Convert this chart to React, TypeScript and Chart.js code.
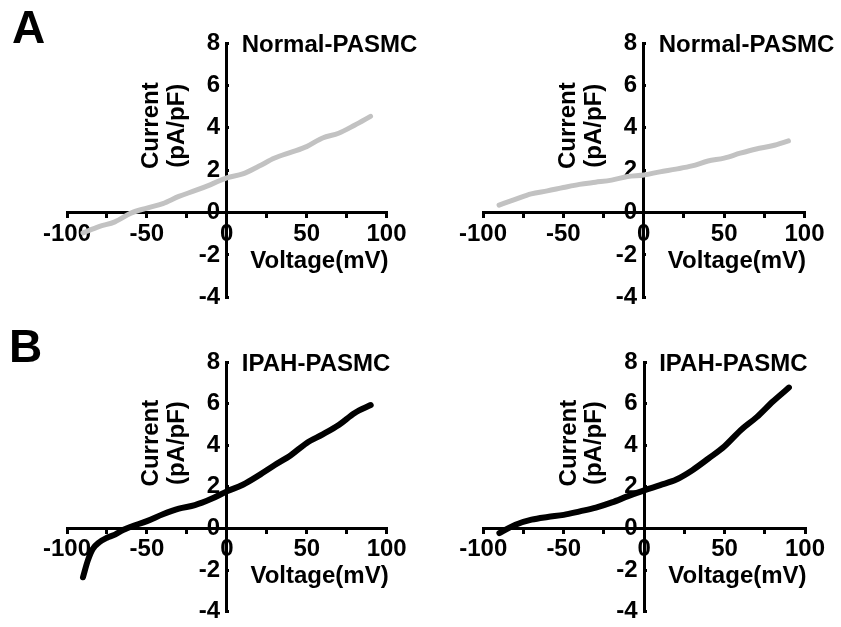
import React, { useEffect, useRef } from 'react';
import { Chart, registerables } from 'chart.js';

Chart.register(...registerables);

// ---- data ----
const voltage = [-90, -80, -70, -60, -50, -40, -30, -20, -10, 0, 10, 20, 30, 40, 50, 60, 70, 80, 90];
const normalCurrentA = [-0.96, -0.66, -0.44, -0.03, 0.21, 0.42, 0.76, 1.03, 1.32, 1.64, 1.82, 2.18, 2.57, 2.84, 3.11, 3.52, 3.74, 4.12, 4.54];
const normalCurrentB = [0.35, 0.62, 0.88, 1.02, 1.18, 1.33, 1.43, 1.53, 1.70, 1.77, 1.92, 2.05, 2.20, 2.43, 2.57, 2.80, 3.00, 3.15, 3.38];
const ipahVoltageA = [-90, -87, -84, -80, -75, -70, -65, -60, -50, -40, -30, -20, -10, 0, 10, 20, 30, 40, 50, 60, 70, 80, 90];
const ipahCurrentA = [-2.35, -1.55, -1.0, -0.68, -0.45, -0.30, -0.08, 0.08, 0.35, 0.68, 0.95, 1.12, 1.41, 1.78, 2.10, 2.55, 3.05, 3.52, 4.11, 4.52, 4.97, 5.55, 5.93];
const ipahCurrentB = [-0.23, 0.18, 0.42, 0.55, 0.65, 0.82, 1.00, 1.25, 1.55, 1.83, 2.08, 2.35, 2.80, 3.36, 3.95, 4.72, 5.35, 6.10, 6.77];

const xTicks = { min: -100, max: 100, step: 25, labelStep: 50 };
const yTicks = { min: -4, max: 8, step: 2 };
const yTitle = ['Current', '(pA/pF)'];
const xTitle = 'Voltage(mV)';
const normalTitle = 'Normal-PASMC';
const ipahTitle = 'IPAH-PASMC';

const FONT = "'Liberation Sans', Arial, Helvetica, sans-serif";
const GRAY = '#c2c2c2';
const BLACK = '#000000';

type Pad = { left: number; right: number; top: number; bottom: number };
type PanelProps = {
  left: number; top: number; width: number; height: number;
  padding: Pad;
  xs: number[]; ys: number[];
  color: string; lineWidth: number;
  title: string;
  letter?: string; letterX?: number; letterY?: number;
};

function Panel(p: PanelProps) {
  const ref = useRef<HTMLCanvasElement | null>(null);
  useEffect(() => {
    if (!ref.current) return;
    const textPlugin = {
      id: 'panelText',
      afterDraw(chart: any) {
        const ctx = chart.ctx as CanvasRenderingContext2D;
        const xs = chart.scales.x;
        const ys = chart.scales.y;
        const axisX = xs.getPixelForValue(0);
        const axisY = ys.getPixelForValue(0);
        ctx.save();
        ctx.fillStyle = '#000';
        // panel title
        ctx.font = `bold 24px ${FONT}`;
        ctx.textAlign = 'left';
        ctx.textBaseline = 'alphabetic';
        ctx.fillText(p.title, axisX + 15, ys.getPixelForValue(8) + 9);
        // x title
        ctx.textAlign = 'center';
        ctx.fillText(xTitle, xs.getPixelForValue(58), axisY + 55);
        // y title (rotated, two lines)
        const cy = ys.getPixelForValue(4.1);
        const baselines = [axisX - 68.5, axisX - 43];
        yTitle.forEach((t, i) => {
          ctx.save();
          ctx.translate(baselines[i], cy);
          ctx.rotate(-Math.PI / 2);
          ctx.textAlign = 'center';
          ctx.textBaseline = 'alphabetic';
          ctx.fillText(t, 0, 0);
          ctx.restore();
        });
        // panel letter
        if (p.letter) {
          ctx.font = `bold 46px ${FONT}`;
          ctx.textAlign = 'left';
          ctx.fillText(p.letter, p.letterX || 0, p.letterY || 0);
        }
        ctx.restore();
      },
    };
    const tickFont = { family: FONT, size: 24, weight: 'bold' as const };
    const chart = new Chart(ref.current, {
      type: 'scatter',
      data: {
        datasets: [
          {
            data: p.xs.map((v, i) => ({ x: v, y: p.ys[i] })),
            showLine: true,
            borderColor: p.color,
            backgroundColor: p.color,
            borderWidth: p.lineWidth,
            pointRadius: 0,
            cubicInterpolationMode: 'monotone',
            borderCapStyle: 'round',
            borderJoinStyle: 'round',
          } as any,
        ],
      },
      options: {
        animation: false,
        responsive: false,
        maintainAspectRatio: false,
        devicePixelRatio: 1,
        layout: { padding: p.padding },
        plugins: { legend: { display: false }, tooltip: { enabled: false }, title: { display: false } },
        scales: {
          x: {
            type: 'linear',
            position: { y: 0 } as any,
            min: xTicks.min,
            max: xTicks.max,
            grid: { display: true, drawOnChartArea: false, drawTicks: true, tickLength: 4, color: '#000', lineWidth: 3 },
            border: { display: true, color: '#000', width: 3 },
            ticks: {
              stepSize: xTicks.step,
              autoSkip: false,
              maxRotation: 0,
              padding: 3,
              color: '#000',
              font: tickFont,
              callback: (v: any) => (Number(v) % xTicks.labelStep === 0 ? String(v) : ''),
            },
          },
          y: {
            type: 'linear',
            position: { x: 0 } as any,
            min: yTicks.min,
            max: yTicks.max,
            grid: { display: true, drawOnChartArea: false, drawTicks: true, tickLength: -4, color: '#000', lineWidth: 3 },
            border: { display: true, color: '#000', width: 3 },
            ticks: {
              stepSize: yTicks.step,
              autoSkip: false,
              padding: 1,
              color: '#000',
              font: tickFont,
              callback: (v: any) => String(v) + ' ',
            },
          },
        },
      },
      plugins: [textPlugin],
    });
    return () => chart.destroy();
  }, []);
  return (
    <canvas
      ref={ref}
      width={p.width}
      height={p.height}
      style={{ position: 'absolute', left: p.left, top: p.top, width: p.width, height: p.height }}
    />
  );
}

export default function App() {
  return (
    <div style={{ position: 'absolute', left: 0, top: 0, width: 841, height: 627, background: '#fff', overflow: 'hidden' }}>
      <Panel left={0} top={0} width={420} height={313}
        padding={{ left: 67, right: 33.5, top: 43, bottom: 15.7 }}
        xs={voltage} ys={normalCurrentA} color={GRAY} lineWidth={5}
        title={normalTitle} letter="A" letterX={12} letterY={43} />
      <Panel left={420} top={0} width={421} height={313}
        padding={{ left: 63, right: 36.5, top: 43, bottom: 15.7 }}
        xs={voltage} ys={normalCurrentB} color={GRAY} lineWidth={5}
        title={normalTitle} />
      <Panel left={0} top={313} width={420} height={314}
        padding={{ left: 67, right: 33.3, top: 49, bottom: 8 }}
        xs={ipahVoltageA} ys={ipahCurrentA} color={BLACK} lineWidth={6}
        title={ipahTitle} letter="B" letterX={9} letterY={49} />
      <Panel left={420} top={313} width={421} height={314}
        padding={{ left: 63.3, right: 36, top: 49, bottom: 8 }}
        xs={voltage} ys={ipahCurrentB} color={BLACK} lineWidth={6}
        title={ipahTitle} />
    </div>
  );
}
